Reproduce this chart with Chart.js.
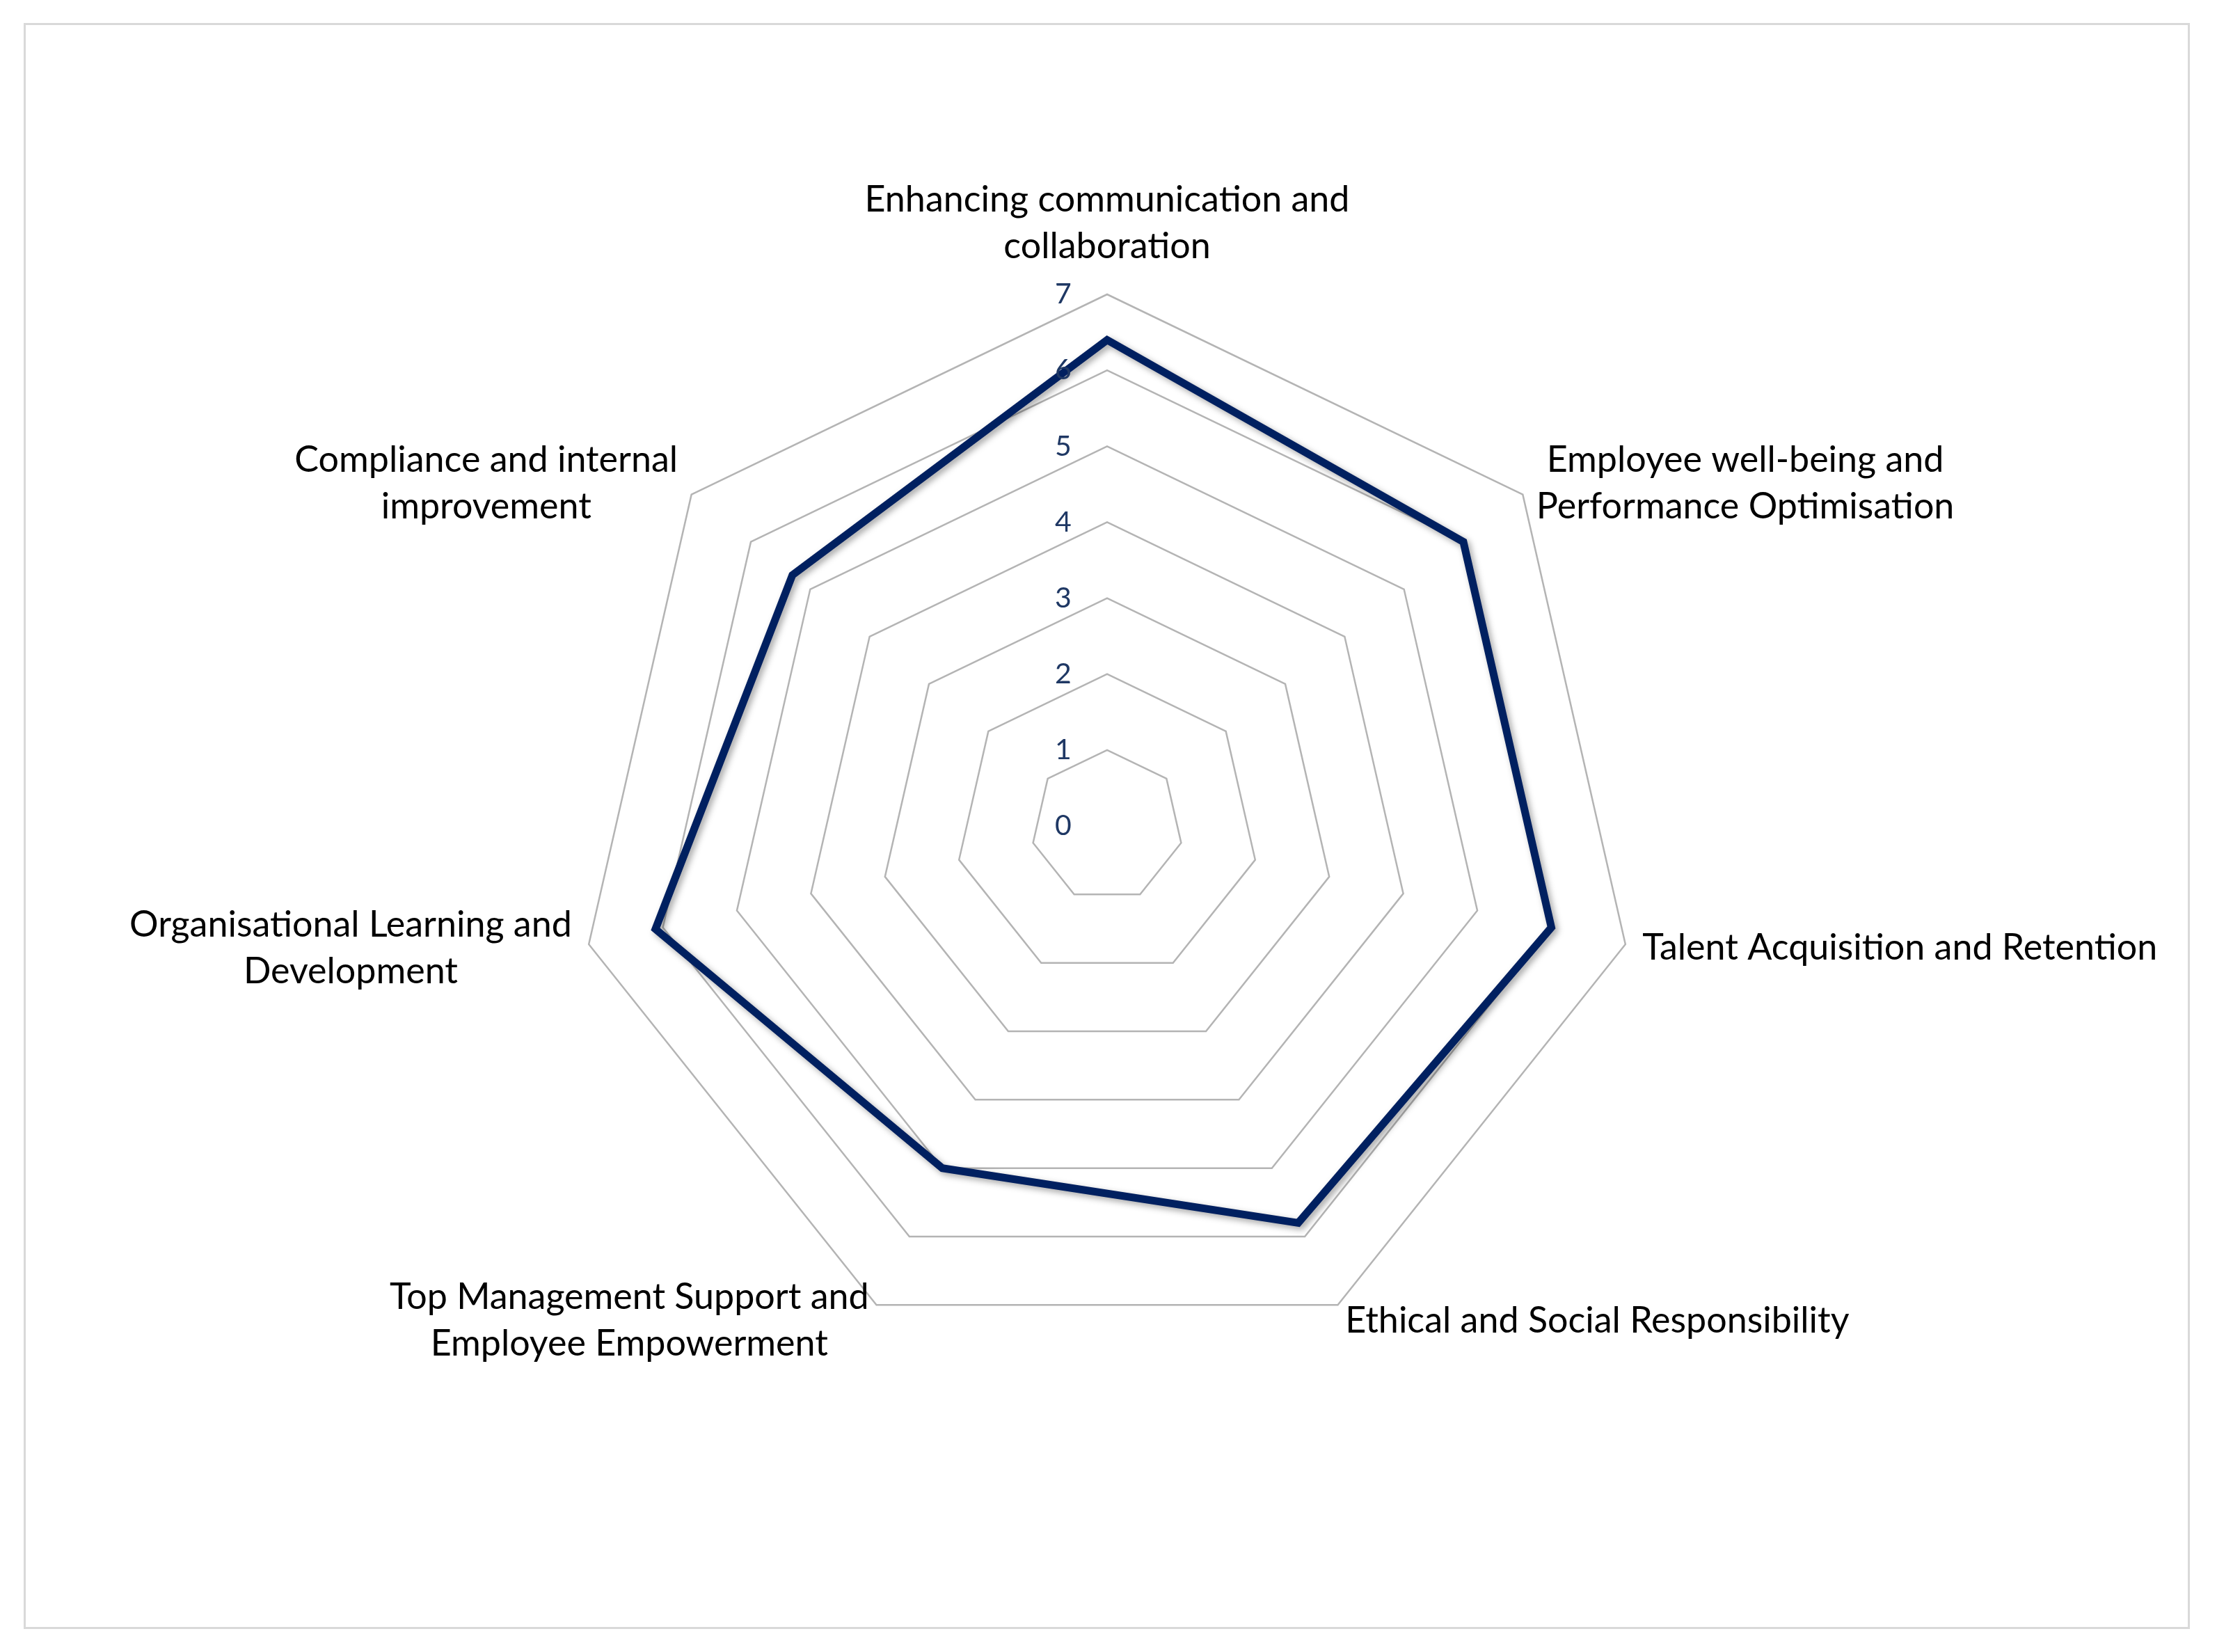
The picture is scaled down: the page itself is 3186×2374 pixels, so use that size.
<!DOCTYPE html>
<html>
<head>
<meta charset="utf-8">
<script src="https://cdn.jsdelivr.net/npm/chart.js@4.4.1/dist/chart.umd.min.js"></script>
<style>
    html, body { margin: 0; padding: 0; background: #ffffff; }
    #wrap { position: relative; width: 3186px; height: 2374px; }
    #grafico_radar { position: absolute; left: 0; top: 0; }
    #moldura {
        position: absolute; left: 34px; top: 33px; width: 3107px; height: 2302px;
        border: 3px solid #d9d9d9; pointer-events: none;
    }
</style>
</head>
<body>
<div id="wrap">
    <canvas id="grafico_radar" width="3186" height="2374"></canvas>
    <div id="moldura"></div>
</div>
<script>
// Categorias (cada uma já quebrada em linhas como no original)
const categorias = [
    ['Enhancing communication and', 'collaboration'],
    ['Employee well-being and', 'Performance Optimisation'],
    ['Talent Acquisition and Retention'],
    ['Ethical and Social Responsibility'],
    ['Top Management Support and', 'Employee Empowerment'],
    ['Organisational Learning and', 'Development'],
    ['Compliance and internal', 'improvement']
];

// Valores da série
const valores = [6.4, 6.0, 6.0, 5.8, 5.0, 6.1, 5.3];

// Rótulos da escala
const ticksEscala = [0, 1, 2, 3, 4, 5, 6, 7];

const corLinha = '#002060';
const corTicks = '#1f3864';
const fonteTexto = 'Lato, "Open Sans", sans-serif';

// Sombra suave por baixo da linha, como no Excel
const sombraPlugin = {
    id: 'sombra',
    beforeDatasetsDraw(chart) {
        const ctx = chart.ctx;
        ctx.save();
        ctx.shadowColor = 'rgba(0, 0, 0, 0.35)';
        ctx.shadowBlur = 10;
        ctx.shadowOffsetX = 4;
        ctx.shadowOffsetY = 4;
    },
    afterDatasetsDraw(chart) {
        chart.ctx.restore();
    }
};

// Rótulos da escala e das categorias desenhados a partir da escala radial
const rotulosPlugin = {
    id: 'rotulos',
    afterDraw(chart) {
        const ctx = chart.ctx;
        const r = chart.scales.r;

        ctx.save();
        // números da escala, um pouco à esquerda do eixo
        ctx.font = '41px ' + fonteTexto;
        ctx.fillStyle = corTicks;
        ctx.textAlign = 'center';
        ctx.textBaseline = 'middle';
        ticksEscala.forEach(v => {
            const d = r.getDistanceFromCenterForValue(v);
            ctx.fillText(String(v), r.xCenter - 63, r.yCenter - d);
        });

        // categorias
        ctx.font = '52px ' + fonteTexto;
        ctx.fillStyle = '#000000';
        const alturaLinha = 67;
        categorias.forEach((linhas, i) => {
            const pos = r.getPointPosition(i, r.drawingArea + 25);
            const larguras = linhas.map(l => ctx.measureText(l).width);
            const larguraMax = Math.max(...larguras);
            const altura = linhas.length * alturaLinha;
            let cx, topo;
            const dx = pos.x - r.xCenter;
            if (Math.abs(dx) < 5) {
                cx = pos.x;
                topo = pos.y - altura - 10;
            } else if (dx > 0) {
                cx = pos.x + larguraMax / 2;
                topo = pos.y - altura / 2;
            } else {
                cx = pos.x - larguraMax / 2;
                topo = pos.y - altura / 2;
            }
            ctx.textAlign = 'center';
            ctx.textBaseline = 'middle';
            linhas.forEach((l, k) => {
                ctx.fillText(l, cx, topo + alturaLinha * (k + 0.5));
            });
        });
        ctx.restore();
    }
};

const ctxRadar = document.getElementById('grafico_radar').getContext('2d');
const graficoRadar = new Chart(ctxRadar, {
    type: 'radar',
    data: {
        labels: categorias,
        datasets: [{
            label: 'Série 1',
            data: valores,
            borderColor: corLinha,
            borderWidth: 11,
            borderJoinStyle: 'miter',
            backgroundColor: 'rgba(0,0,0,0)',
            fill: false,
            pointRadius: 0,
            pointHoverRadius: 0,
            tension: 0
        }]
    },
    options: {
        responsive: false,
        animation: false,
        devicePixelRatio: 1,
        layout: { padding: { left: 827, right: 831, top: 423, bottom: 423 } },
        plugins: {
            legend: { display: false },
            tooltip: { enabled: false }
        },
        scales: {
            r: {
                min: 0,
                max: 7,
                ticks: { display: false, stepSize: 1, showLabelBackdrop: false },
                grid: { color: '#b4b4b4', lineWidth: 2.5 },
                angleLines: { display: false },
                pointLabels: { display: false }
            }
        }
    },
    plugins: [sombraPlugin, rotulosPlugin]
});
</script>
</body>
</html>
